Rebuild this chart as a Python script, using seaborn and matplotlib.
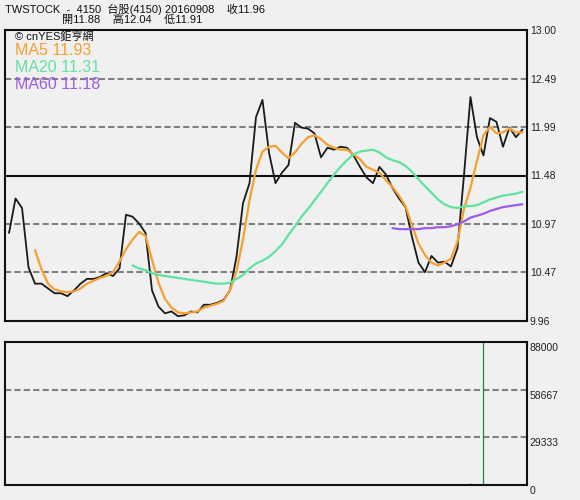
import numpy as np
import pandas as pd
import seaborn as sns
import matplotlib.pyplot as plt
import matplotlib.transforms as mtransforms

# values (one per trading day)
close = [10.88, 11.24, 11.14, 10.52, 10.35, 10.35, 10.30, 10.25, 10.25, 10.22,
         10.28, 10.35, 10.40, 10.40, 10.42, 10.46, 10.43, 10.51, 11.07, 11.05,
         10.98, 10.88, 10.28, 10.11, 10.04, 10.06, 10.01, 10.02, 10.06, 10.05,
         10.13, 10.13, 10.15, 10.18, 10.28, 10.63, 11.19, 11.40, 12.09, 12.27,
         11.72, 11.40, 11.51, 11.59, 12.03, 11.98, 11.97, 11.92, 11.67, 11.77,
         11.75, 11.78, 11.77, 11.69, 11.57, 11.46, 11.40, 11.57, 11.49, 11.35,
         11.24, 11.15, 10.84, 10.57, 10.47, 10.64, 10.57, 10.58, 10.53, 10.72,
         11.48, 12.30, 11.88, 11.69, 12.08, 12.04, 11.78, 11.98, 11.88, 11.96]

# moving averages as drawn (MA5 from day 4, MA20 from day 19, MA60 from day 59)
ma5 = [10.70, 10.50, 10.35, 10.29, 10.27, 10.26, 10.27, 10.30, 10.35, 10.38,
       10.41, 10.43, 10.47, 10.58, 10.71, 10.81, 10.89, 10.85, 10.60, 10.36,
       10.19, 10.10, 10.05, 10.04, 10.05, 10.06, 10.10, 10.12, 10.14, 10.17,
       10.28, 10.48, 10.81, 11.22, 11.54, 11.73, 11.78, 11.79, 11.72, 11.66,
       11.72, 11.81, 11.88, 11.90, 11.86, 11.80, 11.77, 11.75, 11.75, 11.70,
       11.65, 11.57, 11.54, 11.51, 11.43, 11.36, 11.27, 11.16, 10.96, 10.77,
       10.65, 10.57, 10.54, 10.57, 10.61, 10.79, 11.13, 11.35, 11.63, 11.90,
       11.99, 11.92, 11.93, 11.97, 11.93, 11.93]
ma20 = [10.54, 10.51, 10.49, 10.46, 10.44, 10.43, 10.42, 10.41, 10.40, 10.39,
        10.38, 10.37, 10.36, 10.35, 10.35, 10.36, 10.40, 10.44, 10.51, 10.56,
        10.59, 10.63, 10.69, 10.76, 10.86, 10.95, 11.05, 11.13, 11.22, 11.31,
        11.40, 11.49, 11.57, 11.64, 11.70, 11.73, 11.74, 11.75, 11.72, 11.67,
        11.64, 11.62, 11.58, 11.52, 11.44, 11.37, 11.30, 11.23, 11.18, 11.15,
        11.14, 11.16, 11.16, 11.17, 11.20, 11.23, 11.25, 11.27, 11.28, 11.29,
        11.31]
ma60 = [10.93, 10.92, 10.92, 10.92, 10.92, 10.93, 10.93, 10.94, 10.94, 10.95,
        10.97, 11.00, 11.04, 11.06, 11.08, 11.11, 11.13, 11.15, 11.16, 11.17,
        11.18]

# volume panel (only one bar is visible in the reference)
volume = [0] * 71 + [1500, 0, 88000, 0, 0, 0, 0, 0, 0]

price_ticks = [9.96, 10.47, 10.97, 11.48, 11.99, 12.49, 13.00]
vol_ticks = [0, 29333, 58667, 88000]

n = len(close)
day = np.arange(n)
df = pd.DataFrame({"day": day, "close": close})
df["ma5"] = [np.nan] * (n - len(ma5)) + ma5
df["ma20"] = [np.nan] * (n - len(ma20)) + ma20
df["ma60"] = [np.nan] * (n - len(ma60)) + ma60
df["volume"] = volume

sns.set_theme(style="white")
plt.rcParams["font.family"] = ["Liberation Sans", "Noto Sans CJK TC", "DejaVu Sans"]

bg = "#F0F0F0"
c_ma5 = "#F5A030"
c_ma20 = "#5FE3A1"
c_ma60 = "#9B5DE5"
grid_c = "#808080"

fig = plt.figure(figsize=(5.8, 5.0), dpi=100, facecolor=bg)
ax = fig.add_axes([5 / 580, 1 - 321 / 500, 522 / 580, 291 / 500], facecolor=bg)
ax2 = fig.add_axes([5 / 580, 1 - 485 / 500, 522 / 580, 143 / 500], facecolor=bg)

# price panel
for t in price_ticks[1:-1]:
    if abs(t - 11.48) < 1e-6:
        ax.axhline(t, color="#111111", lw=1.5, zorder=1)
    else:
        ax.axhline(t, color=grid_c, lw=1.5, ls=(0, (3, 1.5)), zorder=1)

sns.lineplot(data=df, x="day", y="close", ax=ax, color="#1a1a1a", lw=1.3, zorder=3)
sns.lineplot(data=df, x="day", y="ma5", ax=ax, color=c_ma5, lw=1.6, zorder=4)
sns.lineplot(data=df, x="day", y="ma20", ax=ax, color=c_ma20, lw=1.6, zorder=4)
sns.lineplot(data=df, x="day", y="ma60", ax=ax, color=c_ma60, lw=1.6, zorder=4)

ax.set_xlim(-0.62, 79.7)
ax.set_ylim(price_ticks[0], price_ticks[-1])
ax.set_xticks([])
ax.yaxis.tick_right()
ax.set_yticks(price_ticks)
ax.set_yticklabels([f"{t:.2f}" for t in price_ticks])
ax.tick_params(axis="y", length=0, pad=2, labelsize=7.5, colors="#222222")
ax.set_xlabel("")
ax.set_ylabel("")
for s in ax.spines.values():
    s.set_color("#111111")
    s.set_linewidth(1.5)

ax.text(0.02, 0.995, "© cnYES鉅亨網", transform=ax.transAxes, fontsize=8,
        color="#111111", va="top", ha="left")
ax.text(0.02, 0.955, f"MA5 {ma5[-1]:.2f}", transform=ax.transAxes, fontsize=11.5,
        color=c_ma5, va="top", ha="left")
ax.text(0.02, 0.898, f"MA20 {ma20[-1]:.2f}", transform=ax.transAxes, fontsize=11.5,
        color=c_ma20, va="top", ha="left")
ax.text(0.02, 0.840, f"MA60 {ma60[-1]:.2f}", transform=ax.transAxes, fontsize=11.5,
        color=c_ma60, va="top", ha="left")

# header
fig.text(5 / 580, 1 - 9 / 500, "TWSTOCK  -  4150  台股(4150) 20160908    收11.96",
         fontsize=8, color="#111111", va="center", ha="left")
fig.text(62 / 580, 1 - 20 / 500, "開11.88    高12.04    低11.91",
         fontsize=8, color="#111111", va="center", ha="left")

# volume panel
for t in vol_ticks[1:-1]:
    ax2.axhline(t, color=grid_c, lw=1.5, ls=(0, (3, 1.5)), zorder=1)
up = df["close"].diff().fillna(0) >= 0
ax2.vlines(df["day"][up], 0, df["volume"][up], color="#E03030", lw=0.9, zorder=2)
ax2.vlines(df["day"][~up], 0, df["volume"][~up], color="#1F8A3A", lw=0.9, zorder=2)
ax2.set_xlim(-0.62, 79.7)
ax2.set_ylim(0, vol_ticks[-1])
ax2.set_xticks([])
ax2.yaxis.tick_right()
ax2.set_yticks(vol_ticks)
ax2.set_yticklabels([str(t) for t in vol_ticks])
ax2.tick_params(axis="y", length=0, pad=2, labelsize=7.5, colors="#222222")
offset = mtransforms.ScaledTranslation(0, -5 / 100, fig.dpi_scale_trans)
for lab in ax2.get_yticklabels():
    lab.set_transform(lab.get_transform() + offset)
for s in ax2.spines.values():
    s.set_color("#111111")
    s.set_linewidth(1.5)

fig.savefig("out.png", dpi=100, facecolor=bg)
